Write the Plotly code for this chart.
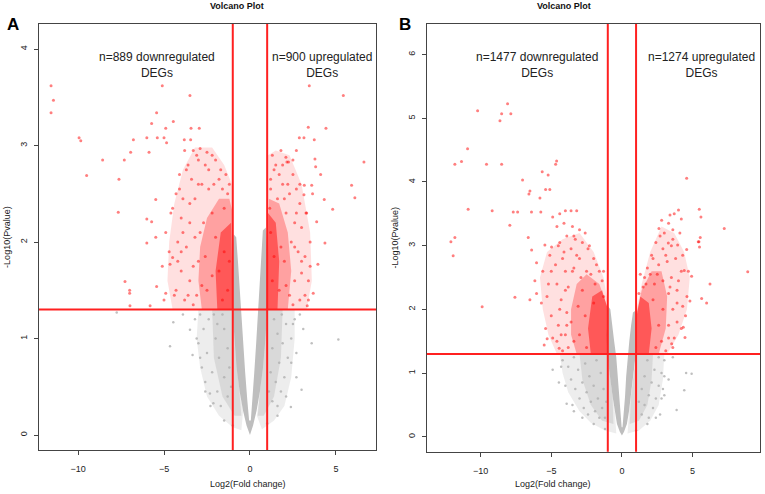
import plotly.graph_objects as go

# thresholds used in both panels
fc_cut = 1.0
p_cut = 1.3  # -log10(0.05)

# ---------------- panel A ----------------
a_core_x = [0.0, -0.2, -0.4, -0.6, -0.78, -0.92, -1.02, -1.05, -1.02, -0.95, -0.8, -0.7, -0.6, -0.52, -0.4, -0.28, -0.15, -0.05,
            0.05, 0.14, 0.25, 0.36, 0.47, 0.56, 0.66, 0.75, 0.92, 1.0, 1.03, 1.0, 0.9, 0.76, 0.58, 0.38, 0.18]
a_core_y = [0.0, 0.1, 0.25, 0.45, 0.7, 1.0, 1.3, 1.6, 1.9, 2.08, 2.05, 1.8, 1.5, 1.25, 0.95, 0.65, 0.35, 0.15,
            0.15, 0.35, 0.65, 0.95, 1.25, 1.55, 1.85, 2.12, 2.15, 1.9, 1.6, 1.3, 1.0, 0.7, 0.45, 0.25, 0.1]

a_ghalo_x = [-1.0, -3.0, -3.1, -2.9, -2.5, -1.8, -1.0, -0.5, -0.4, -0.78, -0.92, None,
             1.0, 2.6, 2.6, 2.4, 2.0, 1.4, 0.7, 0.4, 0.76, 0.9]
a_ghalo_y = [1.3, 1.3, 1.0, 0.7, 0.4, 0.2, 0.08, 0.05, 0.25, 0.7, 1.0, None,
             1.3, 1.3, 1.0, 0.6, 0.3, 0.15, 0.06, 0.2, 0.7, 1.0]
a_ghalo2_x = [-1.0, -2.2, -2.1, -1.6, -0.9, -0.5, None, 1.0, 1.9, 1.8, 1.4, 0.8, 0.45]
a_ghalo2_y = [1.3, 1.3, 0.8, 0.4, 0.2, 0.2, None, 1.3, 1.3, 0.8, 0.4, 0.2, 0.2]

a_rhalo_x = [-1.0, -4.5, -4.8, -4.7, -4.4, -3.9, -3.2, -2.2, -1.5, -1.05, None,
             1.0, 3.3, 3.6, 3.5, 3.0, 2.3, 1.5, 1.05]
a_rhalo_y = [1.3, 1.3, 1.6, 2.0, 2.4, 2.75, 2.98, 2.98, 2.8, 2.6, None,
             1.3, 1.3, 1.6, 2.1, 2.6, 2.9, 2.95, 2.9]
a_rcore_x = [-1.0, -2.8, -3.0, -2.9, -2.5, -1.8, -1.2, -1.0, None, 1.0, 2.2, 2.4, 2.2, 1.7, 1.1]
a_rcore_y = [1.3, 1.3, 1.6, 1.95, 2.25, 2.45, 2.45, 2.3, None, 1.3, 1.3, 1.7, 2.1, 2.4, 2.45]
a_rdense_x = [-1.0, -1.9, -2.0, -1.7, -1.1, None, 1.0, 1.6, 1.7, 1.5, 1.05]
a_rdense_y = [1.3, 1.3, 1.7, 2.1, 2.2, None, 1.3, 1.3, 1.8, 2.2, 2.3]

a_red_x = [-11.57, -11.43, -11.57, -9.94, -9.84, -9.5, -8.57, -7.62, -7.66, -7.31, -6.94, -6.78, -6.0, -5.87, -5.72,
           -5.43, -5.1, -5.39, -4.9, -5.0, -4.46, -4.85, -3.49, -3.43, -2.95, -3.82, -3.45, -6.0, -5.72, -5.48, -6.0,
           -5.48, -7.27, -7.0, -7.0, -4.9, -5.43, -4.65, -4.5, -5.81, -6.98,
           -3.8, -3.3, -2.9, -2.5, -2.2, -3.6, -3.0, -2.6, -2.0, -4.1, -3.4, -2.8, -1.8, -1.4, -4.3, -3.9, -3.2, -2.4,
           -1.6, -4.6, -4.0, -3.5, -2.2, -1.3, -4.9, -4.2, -3.7, -3.2, -5.1, -4.0, -3.5, -4.3, -3.8, -3.3, -5.0, -4.0,
           -2.7, -2.0, -1.5, -2.5, -1.3, -1.8, -1.2, -3.0, -2.6, -2.2, -1.6,
           -4.4, -4.7, -4.5, -4.1, -3.7, -3.1, -2.4, -1.7, -1.2, -4.2, -3.9, -3.5, -3.0, -2.1, -1.5, -3.6, -3.1, -2.9,
           -3.3, -2.8,
           3.45, 5.43, 3.39, 4.42, 2.87, 3.14, 3.74, 1.8, 2.09, 2.15, 2.24, 3.78, 3.82, 6.63, 4.11, 3.59, 3.64, 5.91,
           6.1, 4.32, 4.81, 3.88, 3.26, 3.14, 3.16, 3.68, 4.36, 3.95, 3.0, 3.33,
           1.3, 1.5, 2.5, 1.2, 1.9, 2.7, 2.3, 1.6, 2.9, 1.15, 2.1, 2.6, 3.0, 2.4, 2.8, 3.2, 2.0, 2.6, 2.3, 2.9, 2.1,
           1.8, 1.4, 1.7, 1.3, 1.2, 2.5, 3.5, 3.4, 2.7,
           3.2, 3.5, 3.3, 2.9, 2.5, 1.9, 1.4, 3.0, 2.7, 2.2, 1.7, 3.4, 2.6, 2.0, 1.2]
a_red_y = [3.62, 3.47, 3.34, 3.08, 3.05, 2.69, 2.85, 2.65, 2.31, 2.85, 2.93, 3.06, 3.08, 2.93, 3.23,
           3.34, 3.62, 3.08, 3.18, 3.08, 3.25, 3.03, 3.52, 3.18, 3.18, 3.06, 3.06, 2.24, 2.21, 2.44, 1.99,
           2.05, 1.59, 1.5, 1.47, 1.47, 1.54, 1.77, 1.84, 1.34, 1.34,
           2.95, 2.95, 2.97, 2.93, 2.9, 2.8, 2.85, 2.8, 2.85, 2.7, 2.65, 2.6, 2.65, 2.7, 2.5, 2.45, 2.45, 2.55,
           2.55, 2.3, 2.25, 2.2, 2.3, 2.5, 2.1, 2.0, 1.95, 2.05, 1.75, 1.7, 1.6, 1.5, 1.4, 1.35, 1.4, 1.9,
           2.2, 2.05, 1.9, 1.5, 1.5, 1.7, 1.8, 1.8, 1.85, 1.65, 1.4,
           1.45, 1.9, 2.35, 2.55, 2.75, 2.9, 2.75, 2.75, 2.6, 1.8, 2.1, 2.4, 2.6, 2.6, 2.35, 1.45, 1.45, 2.1,
           1.75, 1.55,
           3.62, 3.52, 3.19, 3.18, 3.08, 3.08, 3.06, 2.95, 2.88, 2.83, 2.83, 2.86, 2.78, 2.83, 2.7, 2.59, 2.5, 2.59,
           2.46, 2.44, 2.34, 2.21, 2.3, 2.49, 2.59, 1.47, 1.99, 1.77, 1.68, 1.34,
           2.9, 2.8, 2.7, 2.65, 2.6, 2.55, 2.5, 2.45, 2.4, 2.35, 2.3, 2.2, 2.15, 2.0, 1.9, 1.85, 1.8, 1.6, 1.45, 1.4, 1.55,
           1.95, 1.85, 1.5, 1.6, 2.1, 1.35, 2.0, 1.6, 2.95,
           1.45, 1.75, 2.3, 2.6, 2.85, 2.8, 2.75, 1.8, 2.3, 2.6, 2.7, 1.4, 1.95, 2.45, 2.55]

a_grey_x = [-7.75, -4.46, -4.65, -3.49, -3.34, -2.33, -2.13, -3.9, -3.2, -3.0, -2.8, -2.6, -2.7, -2.5, -2.2, -1.9,
            -1.7, -2.9, -2.4, -2.0, -1.8, -1.5, -1.3, -1.5, -1.3, -1.6, -1.2, -1.1, -2.1, -1.9,
            -3.1, -2.9, -2.6, -2.3, -1.5, -1.0,
            5.14, 3.59, 3.0, 2.38, 2.6, 2.4, 2.2, 2.0, 1.8, 1.6, 2.9, 2.1, 1.9, 1.7, 1.5, 1.3, 1.4, 1.3, 1.2, 1.1,
            3.1, 2.7, 1.85, 1.6, 2.5, 2.4, 2.1, 1.6, 1.0, 2.7]
a_grey_y = [1.27, 1.17, 0.92, 1.09, 0.83, 0.43, 0.33, 1.25, 1.2, 0.95, 0.7, 0.55, 1.1, 0.85, 0.65, 0.45,
            0.3, 1.25, 1.2, 1.0, 0.8, 0.6, 0.4, 1.1, 0.9, 1.25, 0.7, 0.5, 1.25, 1.15,
            1.0, 0.8, 0.45, 0.3, 0.15, 0.1,
            0.99, 0.95, 0.47, 0.29, 1.2, 1.0, 0.8, 0.6, 0.45, 0.3, 1.25, 1.15, 0.95, 0.75, 0.55, 0.35, 1.2, 0.9, 0.65, 0.45,
            1.1, 0.85, 1.25, 1.05, 1.15, 0.75, 0.4, 0.2, 0.12, 0.6]

# ---------------- panel B ----------------
b_core_x = [0.0, -0.15, -0.35, -0.5, -0.66, -0.82, -0.95, -1.04, -1.08, -1.03, -0.98, -0.82, -0.7, -0.55, -0.4, -0.3,
            -0.2, -0.1, -0.02, 0.04, 0.12, 0.22, 0.3, 0.4, 0.52, 0.65, 0.78, 0.95, 1.0, 0.98, 0.88, 0.78, 0.64, 0.5,
            0.35, 0.15]
b_core_y = [0.02, 0.08, 0.2, 0.4, 0.63, 0.9, 1.15, 1.3, 1.6, 1.85, 2.05, 2.0, 1.75, 1.5, 1.25, 0.95,
            0.63, 0.35, 0.15, 0.15, 0.35, 0.63, 0.95, 1.25, 1.5, 1.75, 1.95, 1.98, 1.7, 1.3, 1.1, 0.9, 0.63, 0.4,
            0.2, 0.08]

b_ghalo_x = [-1.0, -4.4, -4.2, -3.8, -3.0, -2.2, -1.2, -0.4, -0.5, -0.82, None,
             1.0, 3.0, 2.9, 2.6, 2.0, 1.2, 0.4, 0.5, 0.78]
b_ghalo_y = [1.3, 1.3, 1.0, 0.7, 0.4, 0.22, 0.1, 0.05, 0.4, 0.9, None,
             1.3, 1.3, 0.9, 0.5, 0.25, 0.1, 0.05, 0.4, 0.9]
b_ghalo2_x = [-1.0, -3.0, -2.8, -2.2, -1.4, -0.6, -0.66, None, 1.0, 2.2, 2.1, 1.8, 1.2, 0.55, 0.64]
b_ghalo2_y = [1.3, 1.3, 0.9, 0.5, 0.25, 0.2, 0.63, None, 1.3, 1.3, 0.9, 0.5, 0.25, 0.2, 0.63]

b_rhalo_x = [-1.0, -4.6, -5.2, -5.6, -5.8, -5.3, -4.2, -3.0, -2.0, -1.3, -1.0, None,
             1.0, 3.2, 4.0, 4.6, 4.8, 4.4, 3.7, 2.8, 2.0, 1.4, 1.0]
b_rhalo_y = [1.3, 1.3, 1.6, 2.0, 2.5, 2.9, 3.1, 3.2, 2.9, 2.5, 2.1, None,
             1.3, 1.3, 1.6, 2.0, 2.5, 2.9, 3.2, 3.3, 2.9, 2.4, 1.95]
b_rcore_x = [-1.0, -3.2, -3.6, -3.6, -3.2, -2.5, -1.6, -1.05, None, 1.0, 2.6, 3.1, 3.2, 2.8, 2.1, 1.4, 1.0]
b_rcore_y = [1.3, 1.3, 1.6, 2.0, 2.4, 2.55, 2.4, 2.05, None, 1.3, 1.3, 1.7, 2.2, 2.6, 2.6, 2.3, 1.9]
b_rdense_x = [-1.0, -2.2, -2.4, -2.1, -1.4, -1.0, None, 1.0, 1.9, 2.1, 1.9, 1.3, 1.0]
b_rdense_y = [1.3, 1.3, 1.7, 2.2, 2.3, 2.0, None, 1.3, 1.3, 1.7, 2.1, 2.2, 1.85]

b_red_x = [-10.21, -8.09, -8.51, -7.86, -8.63, -10.92, -11.82, -11.35, -9.58, -8.51, -4.62, -4.69, -5.64, -5.22,
           -7.03, -5.4, -5.1, -6.51, -6.58, -5.8, -10.88, -9.18, -7.69, -7.38, -7.93, -6.4, -5.74, -6.63, -12.1,
           -11.82, -11.94, -9.89, -7.57, -6.51, -6.39, -6.04, -6.16, -6.04, -5.45, -4.98, -5.5, -5.29, -4.44,
           -4.9, -4.4, -4.0, -3.6, -3.2, -4.6, -4.1, -3.5, -3.0, -2.6, -3.9, -3.3, -2.8, -4.5, -3.6, -2.3, -4.2,
           -3.0, -2.0, -5.0, -4.0, -3.4, -2.5, -1.6, -4.6, -3.8, -2.9, -5.3, -4.3, -3.9, -5.0, -4.5, -4.0, -4.6,
           -3.8, -4.2, -3.4, -3.6, -2.8, -1.9, -1.4, -3.1, -2.6, -2.0, -3.0, -2.5, -1.3,
           -5.4, -5.7, -5.6, -5.1, -4.4, -3.4, -2.4, -1.8, -1.3, -4.9, -5.2, -4.7, -4.1, -3.2, -2.2, -4.4, -4.0, -3.5,
           -4.3, -3.9,
           8.9, 6.23, 5.99, 5.64, 4.58, 5.4, 5.49, 4.93, 4.41, 4.81, 4.34, 4.46, 3.52, 3.94, 3.28, 4.58, 4.0, 3.7,
           3.4, 4.2, 5.47, 5.59, 7.24, 5.54, 5.45, 2.62, 2.81, 3.3,
           3.0, 3.6, 4.1, 2.4, 3.5, 2.9, 2.1, 3.8, 3.2, 2.6, 1.8, 4.2, 3.5, 2.9, 1.6, 2.3, 3.9, 3.3, 4.3, 3.6, 2.9,
           3.9, 3.3, 3.7, 2.8, 3.1, 2.6, 2.2, 1.5, 1.2, 2.4,
           3.6, 4.2, 4.6, 4.7, 4.3, 3.6, 2.7, 2.2, 1.7, 1.3, 3.3, 3.9, 4.0, 3.1, 2.5, 4.5, 3.4, 2.0]
b_red_y = [5.12, 5.23, 5.07, 5.07, 4.96, 4.52, 4.28, 4.32, 4.28, 4.28, 4.33, 4.28, 4.16, 4.11,
           4.03, 3.88, 3.88, 3.86, 3.81, 3.75, 3.57, 3.55, 3.53, 3.53, 3.32, 3.53, 3.53, 3.13, 3.06,
           3.13, 2.84, 2.04, 2.19, 2.15, 2.93, 2.73, 2.45, 2.25, 3.01, 2.98, 1.44, 1.54, 1.39,
           3.45, 3.5, 3.55, 3.55, 3.55, 3.3, 3.35, 3.3, 3.25, 3.2, 3.15, 3.1, 3.05, 3.0, 2.95, 3.0, 2.8,
           2.8, 2.8, 2.6, 2.6, 2.65, 2.6, 2.6, 2.4, 2.35, 2.5, 2.2, 2.15, 1.95, 1.9, 1.75, 1.6, 1.5,
           1.4, 1.35, 1.5, 1.8, 2.3, 2.4, 2.45, 2.05, 1.9, 2.1, 1.6, 1.4, 2.2,
           1.7, 2.1, 2.6, 2.85, 3.05, 3.15, 2.95, 2.7, 2.6, 1.55, 2.4, 2.7, 2.9, 2.85, 2.55, 2.0, 2.3, 2.6,
           1.6, 1.75,
           2.59, 2.4, 2.1, 2.17, 2.94, 3.06, 2.98, 2.52, 2.61, 2.13, 1.72, 1.56, 1.46, 3.01, 3.04, 4.06, 3.56, 3.5,
           3.48, 3.42, 3.57, 3.45, 3.27, 3.13, 3.06, 3.27, 3.4, 3.35,
           3.2, 3.25, 3.2, 3.05, 3.0, 2.95, 2.85, 2.8, 2.75, 2.7, 2.65, 2.6, 2.5, 2.45, 2.5, 2.4, 2.3, 2.25, 2.05, 2.0, 2.0,
           1.8, 1.75, 1.55, 1.5, 1.35, 1.75, 2.15, 2.35, 2.25, 1.4,
           1.4, 1.7, 2.2, 2.6, 2.85, 3.1, 3.15, 2.8, 2.4, 2.55, 1.55, 2.1, 2.45, 2.85, 2.55, 1.9, 2.35, 2.55]

b_grey_x = [-4.46, -3.91, -4.2, -3.8, -3.6, -3.3, -3.0, -2.7, -2.4, -3.4, -3.1, -2.8, -2.5, -2.2, -1.9, -1.6,
            -2.6, -2.3, -2.0, -1.7, -1.4, -1.2, -1.8, -1.5, -1.3, -1.1, -4.9, -3.4,
            -4.3, -4.0, -3.5, -2.8, -2.0, -1.2,
            4.93, 4.41, 3.87, 4.54, 3.0, 2.8, 2.6, 2.4, 2.2, 1.9, 2.6, 2.3, 2.1, 1.9, 1.6, 1.4, 1.8, 1.6, 1.4, 1.2,
            3.3, 3.0, 2.7, 3.6, 3.0, 2.8, 2.4, 1.8, 1.0, 2.9]
b_grey_y = [0.85, 0.52, 1.2, 1.1, 0.9, 0.75, 0.6, 0.45, 0.35, 1.25, 1.05, 0.85, 0.7, 0.55, 0.4, 0.3,
            1.15, 0.95, 0.8, 0.6, 0.45, 0.3, 1.2, 1.0, 0.75, 0.55, 1.05, 0.4,
            1.1, 0.8, 0.5, 0.3, 0.2, 0.12,
            0.99, 0.73, 0.42, 1.0, 1.2, 1.0, 0.8, 0.6, 0.45, 0.3, 1.25, 1.05, 0.85, 0.65, 0.5, 0.35, 1.2, 0.95, 0.75, 0.55,
            0.9, 0.65, 0.35, 1.25, 0.95, 0.6, 0.3, 0.2, 0.1, 0.75]

panels = [
    dict(core=(a_core_x, a_core_y), ghalo=(a_ghalo_x, a_ghalo_y), ghalo2=(a_ghalo2_x, a_ghalo2_y),
         rhalo=(a_rhalo_x, a_rhalo_y), rcore=(a_rcore_x, a_rcore_y), rdense=(a_rdense_x, a_rdense_y),
         red=(a_red_x, a_red_y), grey=(a_grey_x, a_grey_y),
         xr=[-12.27, 7.33], yr=[-0.155, 4.26], yt=[0, 1, 2, 3, 4],
         xd=[0.051, 0.4915], yd=[0.0891, 0.9514], letter='A', letter_x=0.017,
         down='n=889 downregulated<br>DEGs', up='n=900 upregulated<br>DEGs',
         down_pos=(-5.4, 3.84), up_pos=(4.19, 3.84)),
    dict(core=(b_core_x, b_core_y), ghalo=(b_ghalo_x, b_ghalo_y), ghalo2=(b_ghalo2_x, b_ghalo2_y),
         rhalo=(b_rhalo_x, b_rhalo_y), rcore=(b_rcore_x, b_rcore_y), rdense=(b_rdense_x, b_rdense_y),
         red=(b_red_x, b_red_y), grey=(b_grey_x, b_grey_y),
         xr=[-13.8, 9.77], yr=[-0.235, 6.48], yt=[0, 1, 2, 3, 4, 5, 6],
         xd=[0.558, 0.9935], yd=[0.0856, 0.9514], letter='B', letter_x=0.530,
         down='n=1477 downregulated<br>DEGs', up='n=1274 upregulated<br>DEGs',
         down_pos=(-6.0, 5.84), up_pos=(5.66, 5.84)),
]

fig = go.Figure()
annotations = []
shapes = []
tick_font = dict(family='Liberation Sans, Arial', size=9, color='#222')

for i, p in enumerate(panels):
    n = '' if i == 0 else str(i + 1)
    xa, ya = 'x' + n, 'y' + n

    def poly(xy, color):
        fig.add_trace(go.Scatter(x=xy[0], y=xy[1], mode='lines', fill='toself', fillcolor=color,
                                 line=dict(width=0), hoverinfo='skip', showlegend=False, xaxis=xa, yaxis=ya))

    poly(p['ghalo'], 'rgba(190,190,190,0.28)')
    poly(p['ghalo2'], 'rgba(190,190,190,0.42)')
    fig.add_trace(go.Scatter(x=p['grey'][0], y=p['grey'][1], mode='markers',
                             marker=dict(size=2.5, color='rgba(175,175,175,0.8)'),
                             showlegend=False, xaxis=xa, yaxis=ya))
    poly(p['core'], '#bebebe')
    poly(p['rhalo'], 'rgba(255,0,0,0.12)')
    poly(p['rcore'], 'rgba(255,0,0,0.28)')
    poly(p['rdense'], 'rgba(255,0,0,0.45)')
    fig.add_trace(go.Scatter(x=p['red'][0], y=p['red'][1], mode='markers',
                             marker=dict(size=3, color='rgba(255,0,0,0.5)'),
                             showlegend=False, xaxis=xa, yaxis=ya))

    axis_common = dict(showline=True, linecolor='#444', linewidth=1.3, mirror=True, ticks='outside',
                       ticklen=4, tickcolor='#444', showgrid=False, zeroline=False, tickfont=tick_font)
    fig.update_layout(**{
        'xaxis' + n: dict(axis_common, range=p['xr'], domain=p['xd'], tickvals=[-10, -5, 0, 5],
                          anchor=ya, ticklabelstandoff=6),
        'yaxis' + n: dict(axis_common, range=p['yr'], domain=p['yd'], tickvals=p['yt'],
                          tickangle=-90, anchor=xa, ticklabelstandoff=3),
    })

    # cut-off lines
    for xv in (-fc_cut, fc_cut):
        shapes.append(dict(type='line', xref=xa, yref=ya + ' domain', x0=xv, x1=xv, y0=0, y1=1,
                           line=dict(color='#ff2020', width=2)))
    shapes.append(dict(type='line', xref=xa + ' domain', yref=ya, x0=0, x1=1, y0=p_cut, y1=p_cut,
                       line=dict(color='#ff2020', width=2)))

    mid = (p['xd'][0] + p['xd'][1]) / 2
    label_font = dict(family='Liberation Sans, Arial', size=12, color='#222')
    annotations += [
        dict(text='<b>Volcano Plot</b>', xref='paper', yref='paper', x=mid, y=0.987, showarrow=False,
             font=dict(family='Liberation Sans, Arial', size=9, color='#111'), yanchor='middle'),
        dict(text='<b>' + p['letter'] + '</b>', xref='paper', yref='paper',
             x=p['letter_x'], y=1 - 25 / 494, showarrow=False, xanchor='center', yanchor='middle',
             font=dict(family='Liberation Sans, Arial', size=17, color='#000')),
        dict(text=p['down'], xref=xa, yref=ya, x=p['down_pos'][0], y=p['down_pos'][1], showarrow=False,
             font=label_font, align='center'),
        dict(text=p['up'], xref=xa, yref=ya, x=p['up_pos'][0], y=p['up_pos'][1], showarrow=False,
             font=label_font, align='center'),
        dict(text='Log2(Fold change)', xref='paper', yref='paper', x=mid, y=1 - 484 / 494, showarrow=False,
             font=dict(family='Liberation Sans, Arial', size=9, color='#222'), yanchor='middle'),
        dict(text='-Log10(Pvalue)', xref='paper', yref='paper', x=p['xd'][0] - 0.042,
             y=(p['yd'][0] + p['yd'][1]) / 2, showarrow=False, textangle=-90,
             font=dict(family='Liberation Sans, Arial', size=9, color='#222'), xanchor='center'),
    ]

fig.update_layout(width=765, height=494, margin=dict(l=0, r=0, t=0, b=0),
                  paper_bgcolor='white', plot_bgcolor='white',
                  annotations=annotations, shapes=shapes, showlegend=False)

# drop the default 8px body margin so the figure sits at the window's corner
fig.write_html("out.html", config={'displayModeBar': False},
               post_script="document.body.style.margin='0';")
